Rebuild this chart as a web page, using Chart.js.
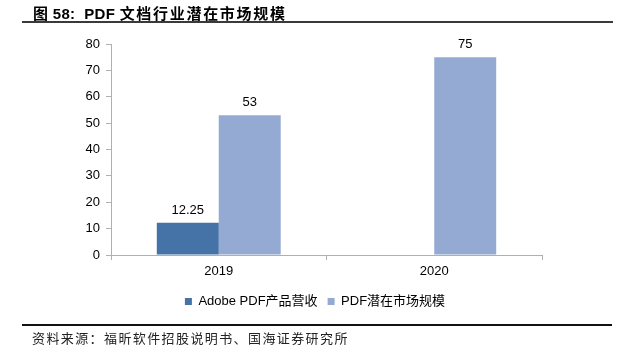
<!DOCTYPE html>
<html>
<head>
<meta charset="utf-8">
<script src="https://cdn.jsdelivr.net/npm/chart.js@4/dist/chart.umd.min.js"></script>
<style>
  html, body { margin: 0; padding: 0; background: #fff; }
  #wrap { position: relative; width: 630px; height: 357px; overflow: hidden; }
  #c { position: absolute; left: 0; top: 0; }
  .title { position: absolute; left: 33px; top: 2px; font: bold 15px "Liberation Sans", Arial, "Noto Sans CJK SC", sans-serif; color: #000; white-space: nowrap; letter-spacing: 0.3px; }
  .title .cn { letter-spacing: 1.7px; }
  .line1 { position: absolute; left: 22px; top: 21px; width: 591px; height: 2px; background: #3a3a3a; }
  .line2 { position: absolute; left: 22px; top: 324px; width: 590px; height: 2px; background: #111; }
  .src { position: absolute; left: 32px; top: 328px; font: 13px "Noto Sans CJK SC", sans-serif; color: #222; white-space: nowrap; letter-spacing: 1.4px; }
</style>
</head>
<body>
<div id="wrap">
  <canvas id="c" width="630" height="357"></canvas>
  <div class="title">图 58:&nbsp; PDF <span class="cn">文档行业潜在市场规模</span></div>
  <div class="line1"></div>
  <div class="line2"></div>
  <div class="src">资料来源：福昕软件招股说明书、国海证券研究所</div>
</div>
<script>
const categories = ["2019", "2020"];
const seriesNames = ["Adobe PDF产品营收", "PDF潜在市场规模"];
const adobeRevenue = [12.25, null];
const marketSize = [53, 75];
const yTicks = [0, 10, 20, 30, 40, 50, 60, 70, 80];

const FONT = "'Liberation Sans', Arial, 'Noto Sans CJK SC', sans-serif";

const valueLabels = {
  id: 'valueLabels',
  afterDatasetsDraw(chart) {
    const ctx = chart.ctx;
    ctx.save();
    ctx.font = "13px " + FONT;
    ctx.fillStyle = "#000";
    ctx.textAlign = "center";
    ctx.textBaseline = "bottom";
    chart.data.datasets.forEach((ds, i) => {
      const meta = chart.getDatasetMeta(i);
      meta.data.forEach((bar, j) => {
        const v = ds.data[j];
        if (v === null || v === undefined) return;
        ctx.fillText(String(v), bar.x, bar.y - 6);
      });
    });
    ctx.restore();
  }
};

new Chart(document.getElementById('c'), {
  type: 'bar',
  data: {
    labels: categories,
    datasets: [
      { label: seriesNames[0], data: adobeRevenue, backgroundColor: '#4572A7', yAxisID: 'y' },
      { label: seriesNames[1], data: marketSize, backgroundColor: '#95AAD2', yAxisID: 'y' }
    ]
  },
  options: {
    responsive: false,
    animation: false,
    devicePixelRatio: 1,
    layout: { padding: { top: 44, left: 0, right: 0, bottom: 39 } },
    plugins: {
      title: { display: false },
      tooltip: { enabled: false },
      legend: {
        display: true,
        position: 'bottom',
        labels: {
          boxWidth: 7, boxHeight: 7,
          font: { family: FONT, size: 13 },
          color: '#000',
          padding: 10
        }
      }
    },
    datasets: { bar: { categoryPercentage: 0.575, barPercentage: 1.0 } },
    scales: {
      x: {
        offset: true,
        grid: { display: true, drawOnChartArea: false, offset: true, tickLength: 5, color: '#b0b0b0' },
        border: { display: true, color: '#b0b0b0' },
        ticks: { font: { family: FONT, size: 13 }, color: '#000', padding: 4 },
        afterFit(scale) { scale.height = 30; }
      },
      y: {
        position: 'left',
        min: 0, max: 80,
        afterBuildTicks(scale) { scale.ticks = yTicks.map(v => ({ value: v })); },
        grid: { display: true, drawOnChartArea: false, tickLength: 5, color: '#b0b0b0' },
        border: { display: true, color: '#b0b0b0' },
        ticks: { font: { family: FONT, size: 13 }, color: '#000', padding: 6 },
        afterFit(scale) { scale.width = 111; }
      },
      yr: {
        position: 'right',
        min: 0, max: 80,
        display: true,
        grid: { display: false },
        border: { display: false },
        ticks: { display: false },
        afterFit(scale) { scale.width = 88; }
      }
    }
  },
  plugins: [valueLabels]
});
</script>
</body>
</html>
